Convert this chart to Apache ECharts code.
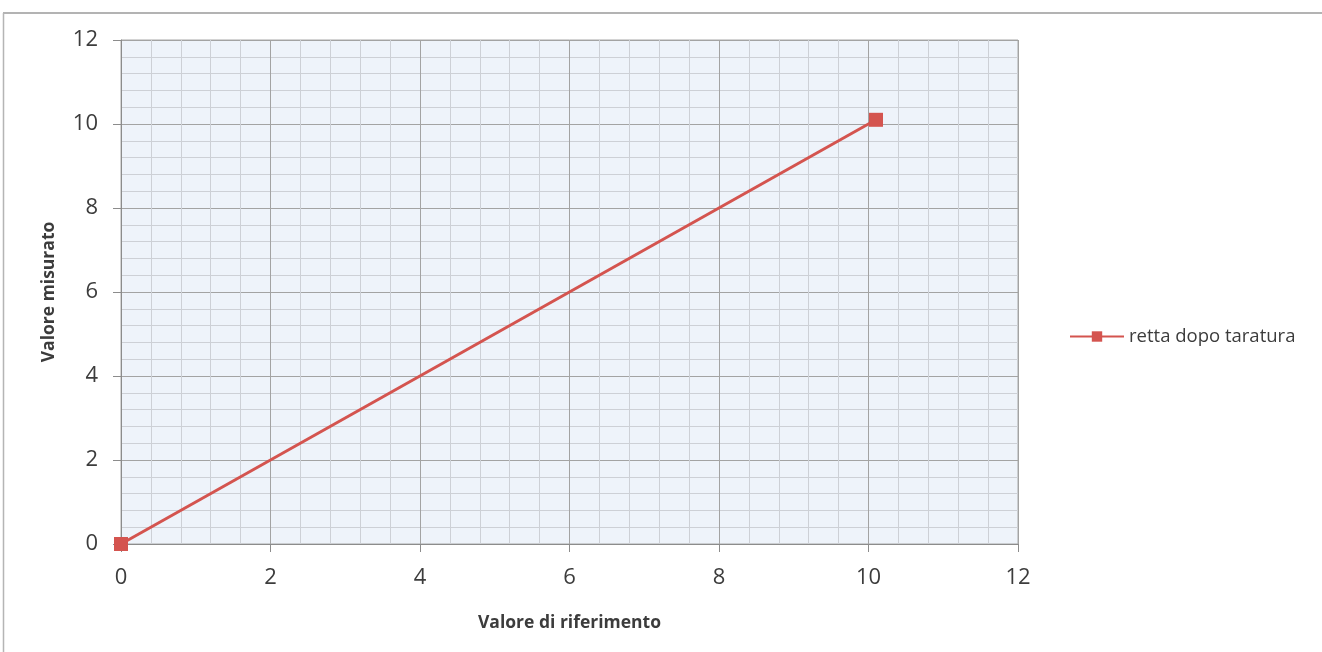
<!DOCTYPE html>
<html>
<head>
<meta charset="utf-8">
<script src="https://cdn.jsdelivr.net/npm/echarts@6/dist/echarts.min.js"></script>
<style>
  html, body { margin: 0; padding: 0; background: #ffffff; }
  #chart { width: 1322px; height: 652px; }
</style>
</head>
<body>
<div id="chart"></div>
<script>
// Calibration line: reference value vs. measured value
const seriesName = 'retta dopo taratura';
const xValues = [0, 10.1];
const yValues = [0, 10.1];
const xAxisTitle = 'Valore di riferimento';
const yAxisTitle = 'Valore misurato';

const points = xValues.map((x, i) => [x, yValues[i]]);
const font = '"Open Sans", Lato, sans-serif';
const lineColor = '#d4544f';
const textColor = '#3c3c3c';

const chart = echarts.init(document.getElementById('chart'), null, { renderer: 'canvas' });
chart.setOption({
  animation: false,
  backgroundColor: '#ffffff',
  textStyle: { fontFamily: font },
  graphic: [
    // outer chart frame
    { type: 'line', shape: { x1: 3, y1: 13, x2: 1322, y2: 13 }, style: { stroke: '#9a9a9a', lineWidth: 1.5 }, silent: true },
    { type: 'line', shape: { x1: 3.5, y1: 13, x2: 3.5, y2: 652 }, style: { stroke: '#b5b5b5', lineWidth: 1.5 }, silent: true }
  ],
  grid: {
    left: 121, top: 40, width: 897, height: 504,
    show: true, backgroundColor: '#eef3fa', borderColor: '#a8a8a8', borderWidth: 1
  },
  legend: {
    orient: 'vertical',
    left: 1064, top: 322,
    itemWidth: 54, itemHeight: 13,
    itemGap: 8,
    textStyle: { fontSize: 18.5, color: textColor, fontFamily: font },
    data: [seriesName]
  },
  xAxis: {
    type: 'value', min: 0, max: 12, interval: 2,
    name: xAxisTitle, nameLocation: 'middle', nameGap: 70,
    nameTextStyle: { fontSize: 17.5, fontWeight: 'bold', color: textColor, fontFamily: font },
    axisLine: { show: true, lineStyle: { color: '#8c8c8c', width: 1 } },
    axisTick: { show: true, length: 8, inside: false, lineStyle: { color: '#8c8c8c' } },
    axisLabel: { fontSize: 22, color: textColor, margin: 23, fontFamily: font },
    splitLine: { show: true, lineStyle: { color: '#a3a3a3', width: 1 } },
    minorTick: { show: false, splitNumber: 5 },
    minorSplitLine: { show: true, lineStyle: { color: '#cdd0d6', width: 1 } }
  },
  yAxis: {
    type: 'value', min: 0, max: 12, interval: 2,
    name: yAxisTitle, nameLocation: 'middle', nameGap: 63, nameRotate: 90,
    nameTextStyle: { fontSize: 17.5, fontWeight: 'bold', color: textColor, fontFamily: font },
    axisLine: { show: true, lineStyle: { color: '#8c8c8c', width: 1 } },
    axisTick: { show: true, length: 8, inside: false, lineStyle: { color: '#8c8c8c' } },
    axisLabel: { fontSize: 22, color: textColor, margin: 23, fontFamily: font },
    splitLine: { show: true, lineStyle: { color: '#a3a3a3', width: 1 } },
    minorTick: { show: false, splitNumber: 5 },
    minorSplitLine: { show: true, lineStyle: { color: '#cdd0d6', width: 1 } }
  },
  series: [{
    name: seriesName,
    type: 'line',
    data: points,
    symbol: 'rect',
    symbolSize: 14,
    lineStyle: { color: lineColor, width: 3 },
    itemStyle: { color: lineColor },
    emphasis: { disabled: true }
  }]
});
</script>
</body>
</html>
